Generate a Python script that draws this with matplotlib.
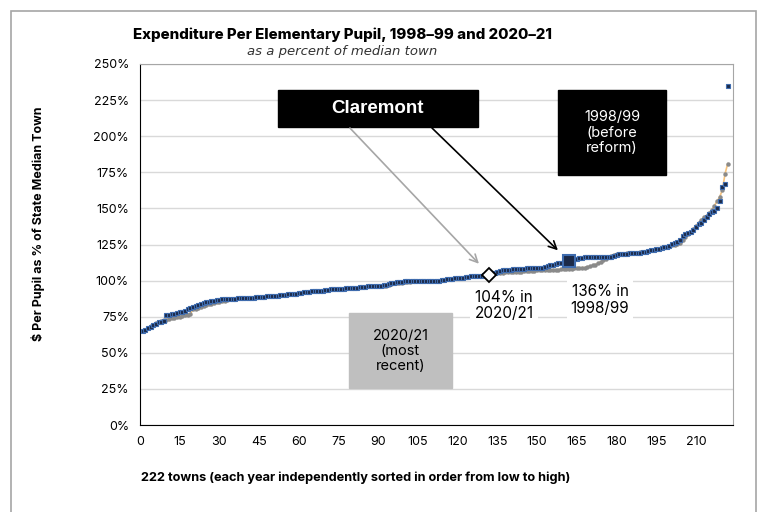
import numpy as np
import matplotlib
matplotlib.use("Agg")
import matplotlib.pyplot as plt
from matplotlib.patches import Rectangle

# 1998-99 expenditure per pupil, % of median town, sorted low to high (222 towns)
pct_1999 = [
    65, 66, 67, 68, 69, 70, 71, 71.5, 72,
    76, 76.5, 77, 77, 77.5, 78, 78.5, 79, 80, 81, 82, 82.5,
    83, 84, 84.5, 85, 85.5, 86, 86, 86.5, 86.5, 87, 87, 87, 87.5, 87.5, 87.5,
    88, 88, 88, 88, 88, 88, 88, 88.5, 88.5, 88.5, 88.5, 89, 89, 89, 89.5,
    89.5, 90, 90, 90, 90.5, 90.5, 91, 91, 91.5, 91.5, 92, 92, 92, 92.5, 92.5,
    93, 93, 93, 93.5, 93.5, 94, 94, 94, 94.5, 94.5, 94.5, 95, 95, 95, 95,
    95, 95.5, 95.5, 95.5, 96, 96, 96, 96, 96.5, 96.5, 97, 97, 97.5, 98, 98.5,
    99, 99, 99, 99.5, 99.5, 99.5, 99.5, 99.5, 99.5, 99.5, 99.5, 100, 100, 100, 100,
    100, 100, 100.5, 100.5, 101, 101, 101, 101.5, 101.5, 102, 102, 102.5, 102.5, 103, 103,
    103, 103.5, 103.5, 104, 104, 104.5, 105, 105.5, 106, 106.5, 107, 107.5, 107.5, 107.5, 108,
    108, 108, 108, 108, 108.5, 108.5, 108.5, 108.5, 108.5, 109, 109, 109.5, 110, 110.5, 111,
    111.5, 112, 112.5, 113, 113.5, 113.6, 114, 115, 115, 115.5, 115.5, 116, 116, 116, 116,
    116, 116, 116, 116, 116, 116, 116.5, 117, 118, 118.5, 118.5, 118.5, 118.5, 119, 119,
    119, 119, 119, 119.5, 120, 120.5, 121, 121.5, 122, 122, 122.5, 123, 123.5, 124, 125.5,
    126, 127, 128, 131, 132, 133, 134, 135, 137, 139,
    140, 142, 144, 146, 147.5, 148, 150, 155, 165, 167, 235,
]

# 2020-21, same scale, independently sorted
pct_2021 = [
    65, 66, 67.5, 68.5, 69.5, 70.5, 71.5, 72, 72.5,
    73, 73.5, 74, 74, 74.5, 75, 75.5, 76, 76.5, 77, 80, 80.5,
    81, 82, 82.5, 83, 83.5, 84, 84.5, 85, 85.5, 86, 86, 86.5, 87, 87, 87.5,
    88, 88, 88, 88, 88, 88, 88, 88.5, 88.5, 88.5, 88.5, 89, 89, 89, 89.5,
    89.5, 90, 90, 90, 90.5, 90.5, 91, 91, 91.5, 91.5, 92, 92, 92, 92.5, 92.5,
    93, 93, 93, 93.5, 93.5, 94, 94, 94, 94.5, 94.5, 94.5, 95, 95, 95, 95,
    95, 95.5, 95.5, 95.5, 96, 96, 96, 96, 96.5, 96.5, 96.5, 96.5, 97, 97.5, 98,
    98, 98.5, 98.5, 99, 99, 99, 99.5, 99.5, 99.5, 99.5, 99.5, 100, 100, 100, 100,
    100, 100, 100.5, 100.5, 101, 101, 101, 101.5, 101.5, 102, 102, 102.5, 102.5, 103, 103,
    103, 103.5, 103.5, 104, 104, 104, 104.5, 105, 105, 105.5, 105.5, 106, 106, 106, 106,
    106, 106, 106, 106.5, 106.5, 106.5, 106.5, 106.5, 107, 107, 107, 107, 107, 107.5, 107.5,
    107.5, 107.5, 108, 108, 108, 108, 108, 108.5, 108.5, 108.5, 109, 109, 109.5, 110, 110.5,
    111, 112, 113, 114, 115, 116, 117, 118, 118.5, 118.5, 118.5, 118.5, 119, 119, 119,
    119, 119, 119.5, 119.5, 120, 120.5, 121, 121.5, 122, 122, 122.5, 123, 123.5, 124, 124.5,
    125, 125.5, 126, 128, 130, 132, 134, 136, 138, 140,
    142, 144, 145, 147, 149, 152, 155, 158, 163, 174, 181,
]

claremont_rank_1999 = 162
claremont_rank_2021 = 132

x_ticks = list(range(0, 211, 15))
y_ticks = list(range(0, 251, 25))

x99 = np.arange(1, len(pct_1999) + 1)
x21 = np.arange(1, len(pct_2021) + 1)

plt.rcParams['font.family'] = ['Inter', 'DejaVu Sans']

fig = plt.figure(figsize=(7.6, 5.12), dpi=100)
fig.patches.append(Rectangle((11 / 760, -0.01), 745 / 760, 1 - 11 / 512 + 0.01,
                             transform=fig.transFigure, fill=False,
                             edgecolor='#a6a6a6', lw=1.2))
ax = fig.add_axes([140 / 760, 87 / 512, 593 / 760, 361 / 512])

# series: 2020-21 gray dots on a thin tan line, 1998-99 blue-edged squares
ax.plot(x21, pct_2021, color='#f6c27c', lw=1.2, zorder=2)
ax.plot(x21, pct_2021, 'o', color='#8a8a8a', ms=2.2, zorder=2)
ax.plot(x99, pct_1999, 's', ms=3.2, mfc='#1c2a48', mec='#3f6cae', mew=0.8,
        ls='none', zorder=4)

# Claremont markers
ax.plot(claremont_rank_1999, pct_1999[claremont_rank_1999 - 1], 's', ms=8,
        mfc='#1c2a48', mec='#3f6cae', mew=1.5, zorder=5)
ax.plot(claremont_rank_2021, pct_2021[claremont_rank_2021 - 1], 'D', ms=7,
        mfc='white', mec='black', mew=1.3, zorder=5)

ax.set_xlim(0, 224)
ax.set_ylim(0, 250)
ax.set_xticks(x_ticks)
ax.set_yticks(y_ticks)
ax.set_yticklabels([f'{v}%' for v in y_ticks])
ax.tick_params(length=0, labelsize=9, pad=8)
ax.grid(axis='y', color='#d9d9d9', lw=1)
ax.set_axisbelow(True)
for s in ['top', 'right']:
    ax.spines[s].set_color('#a6a6a6')
for s in ['left', 'bottom']:
    ax.spines[s].set_color('black')

# titles and axis labels
fig.text(133 / 760, 1 - 35 / 512, 'Expenditure Per Elementary Pupil, 1998–99 and 2020–21',
         fontsize=10.8, fontweight='heavy', ha='left', va='center')
fig.text(342 / 760, 1 - 52 / 512, 'as a percent of median town', fontsize=9.5,
         style='italic', family='DejaVu Sans', ha='center', va='center', color='#333333')
fig.text(38 / 760, 1 - 224 / 512, '$ Per Pupil as % of State Median Town', rotation=90,
         fontsize=9, fontweight='bold', ha='center', va='center')
fig.text(141 / 760, 1 - 478 / 512,
         '222 towns (each year independently sorted in order from low to high)',
         fontsize=9.2, fontweight='bold', ha='left', va='center')

# annotation boxes
ax.add_patch(Rectangle((0.2327, 0.8255), 0.3373, 0.1025, transform=ax.transAxes,
                       color='black', zorder=6))
ax.text(0.401, 0.877, 'Claremont', transform=ax.transAxes, color='white',
        fontsize=13.5, fontweight='bold', family='Liberation Sans',
        ha='center', va='center', zorder=7)
ax.add_patch(Rectangle((0.705, 0.6925), 0.182, 0.2355, transform=ax.transAxes,
                       color='black', zorder=6))
ax.text(0.796, 0.81, '1998/99\n(before\nreform)', transform=ax.transAxes, color='white',
        fontsize=10.5, ha='center', va='center', linespacing=1.1, zorder=7)
ax.add_patch(Rectangle((0.3524, 0.1025), 0.1737, 0.2077, transform=ax.transAxes,
                       color='#bfbfbf', zorder=6))
ax.text(0.4393, 0.206, '2020/21\n(most\nrecent)', transform=ax.transAxes, color='black',
        fontsize=10.5, ha='center', va='center', linespacing=1.1, zorder=7)

ax.text(0.6138, 0.33, '104% in\n2020/21', transform=ax.transAxes, fontsize=11,
        ha='center', va='center', linespacing=1.1, zorder=7,
        bbox=dict(facecolor='white', edgecolor='none', pad=3))
ax.text(0.7757, 0.346, '136% in\n1998/99', transform=ax.transAxes, fontsize=11,
        ha='center', va='center', linespacing=1.1, zorder=7,
        bbox=dict(facecolor='white', edgecolor='none', pad=3))

# arrows
ax.annotate('', xy=(claremont_rank_2021, pct_2021[claremont_rank_2021 - 1]),
            xytext=(0.354, 0.8227), textcoords='axes fraction',
            arrowprops=dict(arrowstyle='->', color='#a6a6a6', lw=1.2,
                            shrinkA=0, shrinkB=11, mutation_scale=14), zorder=6)
ax.annotate('', xy=(claremont_rank_1999, pct_1999[claremont_rank_1999 - 1]),
            xytext=(0.4924, 0.8227), textcoords='axes fraction',
            arrowprops=dict(arrowstyle='->', color='black', lw=1.2,
                            shrinkA=0, shrinkB=11, mutation_scale=14), zorder=6)

fig.savefig('out.png', dpi=100)
